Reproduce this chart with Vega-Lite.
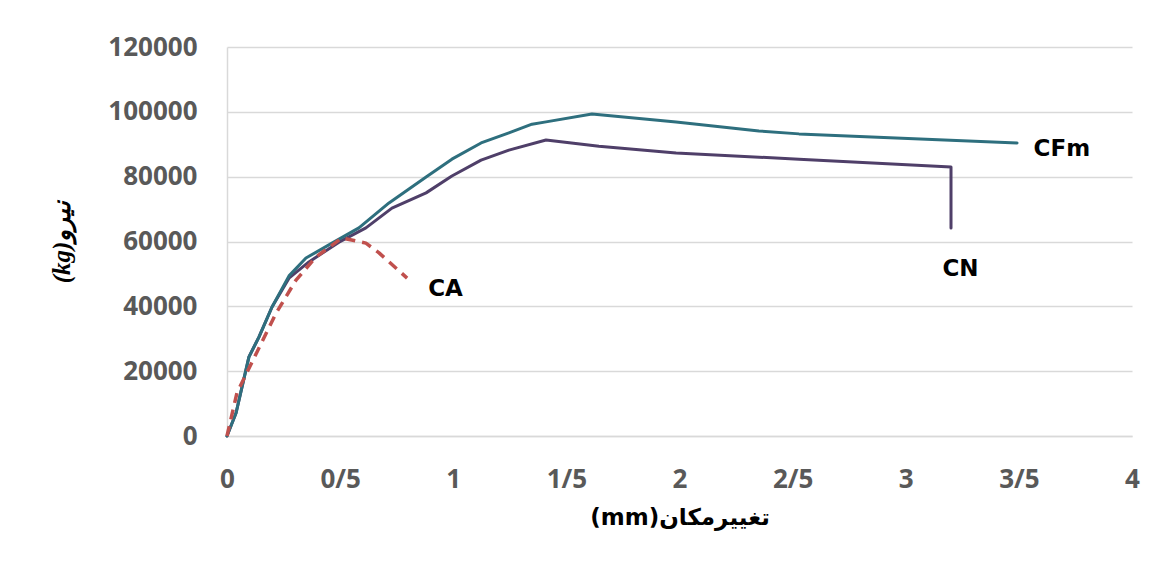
{
  "$schema": "https://vega.github.io/schema/vega-lite/v6.json",
  "autosize": "none",
  "width": 905,
  "height": 389,
  "padding": {"left": 227, "top": 47, "right": 34, "bottom": 129},
  "background": "white",
  "config": {"view": {"stroke": null}},
  "datasets": {
    "curves": [
      {"s": "CN", "i": 0, "x": 0, "y": 0},
      {"s": "CN", "i": 1, "x": 0.04, "y": 7100},
      {"s": "CN", "i": 2, "x": 0.097, "y": 24400},
      {"s": "CN", "i": 3, "x": 0.141, "y": 30500},
      {"s": "CN", "i": 4, "x": 0.199, "y": 39800},
      {"s": "CN", "i": 5, "x": 0.274, "y": 48700},
      {"s": "CN", "i": 6, "x": 0.362, "y": 53700},
      {"s": "CN", "i": 7, "x": 0.495, "y": 59800},
      {"s": "CN", "i": 8, "x": 0.614, "y": 64200},
      {"s": "CN", "i": 9, "x": 0.729, "y": 70300},
      {"s": "CN", "i": 10, "x": 0.88, "y": 75000},
      {"s": "CN", "i": 11, "x": 0.994, "y": 80200},
      {"s": "CN", "i": 12, "x": 1.123, "y": 85100},
      {"s": "CN", "i": 13, "x": 1.246, "y": 88200},
      {"s": "CN", "i": 14, "x": 1.41, "y": 91300},
      {"s": "CN", "i": 15, "x": 1.644, "y": 89400},
      {"s": "CN", "i": 16, "x": 1.985, "y": 87300},
      {"s": "CN", "i": 17, "x": 2.528, "y": 85400},
      {"s": "CN", "i": 18, "x": 3.2, "y": 83000},
      {"s": "CN", "i": 19, "x": 3.2, "y": 64200},
      {"s": "CFm", "i": 0, "x": 0, "y": 0},
      {"s": "CFm", "i": 1, "x": 0.04, "y": 7100},
      {"s": "CFm", "i": 2, "x": 0.097, "y": 24400},
      {"s": "CFm", "i": 3, "x": 0.141, "y": 30500},
      {"s": "CFm", "i": 4, "x": 0.199, "y": 39800},
      {"s": "CFm", "i": 5, "x": 0.274, "y": 49400},
      {"s": "CFm", "i": 6, "x": 0.349, "y": 54900},
      {"s": "CFm", "i": 7, "x": 0.464, "y": 59500},
      {"s": "CFm", "i": 8, "x": 0.583, "y": 64200},
      {"s": "CFm", "i": 9, "x": 0.716, "y": 71900},
      {"s": "CFm", "i": 10, "x": 0.88, "y": 79900},
      {"s": "CFm", "i": 11, "x": 0.994, "y": 85400},
      {"s": "CFm", "i": 12, "x": 1.123, "y": 90400},
      {"s": "CFm", "i": 13, "x": 1.246, "y": 93500},
      {"s": "CFm", "i": 14, "x": 1.348, "y": 96200},
      {"s": "CFm", "i": 15, "x": 1.41, "y": 96900},
      {"s": "CFm", "i": 16, "x": 1.613, "y": 99300},
      {"s": "CFm", "i": 17, "x": 1.985, "y": 96900},
      {"s": "CFm", "i": 18, "x": 2.351, "y": 94100},
      {"s": "CFm", "i": 19, "x": 2.528, "y": 93200},
      {"s": "CFm", "i": 20, "x": 3.492, "y": 90400},
      {"s": "CA", "i": 0, "x": 0, "y": 0},
      {"s": "CA", "i": 1, "x": 0.044, "y": 13300},
      {"s": "CA", "i": 2, "x": 0.217, "y": 37900},
      {"s": "CA", "i": 3, "x": 0.305, "y": 48100},
      {"s": "CA", "i": 4, "x": 0.393, "y": 55200},
      {"s": "CA", "i": 5, "x": 0.508, "y": 61100},
      {"s": "CA", "i": 6, "x": 0.614, "y": 59500},
      {"s": "CA", "i": 7, "x": 0.672, "y": 56500},
      {"s": "CA", "i": 8, "x": 0.796, "y": 48700}
    ],
    "labels": [
      {"label": "CFm", "x": 3.69, "y": 88400},
      {"label": "CN", "x": 3.242, "y": 51400},
      {"label": "CA", "x": 0.966, "y": 45500}
    ]
  },
  "layer": [
    {
      "data": {"name": "curves"},
      "transform": [{"filter": "datum.s === 'CN'"}],
      "mark": {"type": "line", "color": "#4f3f69", "strokeWidth": 3, "strokeCap": "round", "strokeJoin": "round"},
      "encoding": {
        "x": {
          "field": "x", "type": "quantitative",
          "scale": {"domain": [0, 4], "nice": false},
          "axis": {
            "values": [0, 0.5, 1, 1.5, 2, 2.5, 3, 3.5, 4],
            "labelExpr": "replace(format(datum.value, '.1~f'), '.', '/')",
            "labelFlush": false,
            "title": "(mm)تغییرمکان",
            "grid": false, "ticks": false,
            "domainColor": "#d9d9d9", "domainWidth": 1.5,
            "labelFont": "Open Sans", "labelFontWeight": "bold", "labelFontSize": 26, "labelColor": "#595959",
            "labelPadding": 30,
            "titleFont": "DejaVu Sans", "titleFontWeight": "bold", "titleFontSize": 23, "titleColor": "#000000",
            "titlePadding": 14
          }
        },
        "y": {
          "field": "y", "type": "quantitative",
          "scale": {"domain": [0, 120000], "nice": false},
          "axis": {
            "values": [0, 20000, 40000, 60000, 80000, 100000, 120000],
            "format": "d",
            "title": "(kg)نیرو",
            "grid": true, "gridColor": "#d9d9d9", "gridWidth": 1.5,
            "ticks": false,
            "domainColor": "#d9d9d9", "domainWidth": 1.5,
            "labelFont": "Open Sans", "labelFontWeight": "bold", "labelFontSize": 26, "labelColor": "#595959",
            "labelPadding": 30,
            "titleFont": "Liberation Serif", "titleFontWeight": "bold", "titleFontStyle": "italic", "titleFontSize": 25, "titleColor": "#000000",
            "titlePadding": 33
          }
        },
        "order": {"field": "i", "type": "quantitative"}
      }
    },
    {
      "data": {"name": "curves"},
      "transform": [{"filter": "datum.s === 'CFm'"}],
      "mark": {"type": "line", "color": "#2e6f7e", "strokeWidth": 3, "strokeCap": "round", "strokeJoin": "round"},
      "encoding": {
        "x": {"field": "x", "type": "quantitative"},
        "y": {"field": "y", "type": "quantitative"},
        "order": {"field": "i", "type": "quantitative"}
      }
    },
    {
      "data": {"name": "curves"},
      "transform": [{"filter": "datum.s === 'CA'"}],
      "mark": {"type": "line", "color": "#c0504d", "strokeWidth": 3.5, "strokeDash": [10, 7], "strokeJoin": "round"},
      "encoding": {
        "x": {"field": "x", "type": "quantitative"},
        "y": {"field": "y", "type": "quantitative"},
        "order": {"field": "i", "type": "quantitative"}
      }
    },
    {
      "data": {"name": "labels"},
      "mark": {"type": "text", "font": "DejaVu Sans", "fontWeight": "bold", "fontSize": 23, "color": "#000000", "align": "center", "baseline": "middle"},
      "encoding": {
        "x": {"field": "x", "type": "quantitative"},
        "y": {"field": "y", "type": "quantitative"},
        "text": {"field": "label"}
      }
    }
  ]
}
